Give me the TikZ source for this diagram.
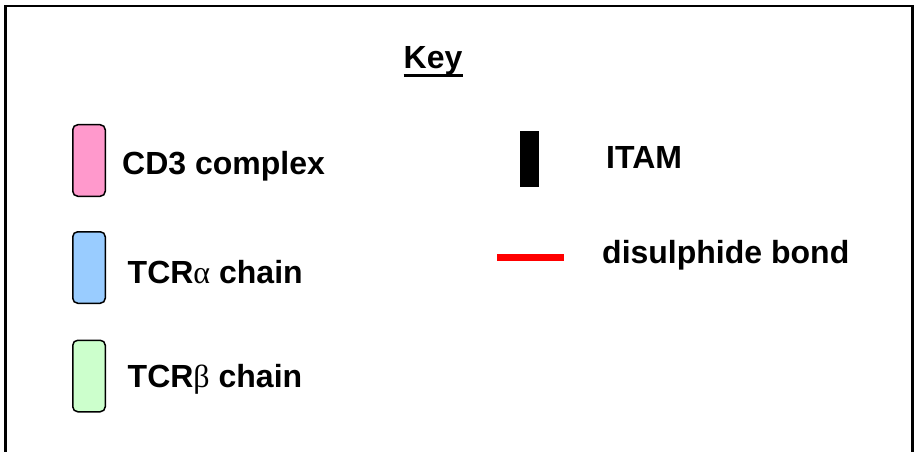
\documentclass[tikz,border=0pt]{standalone}
\usepackage{fontspec}
\setmainfont{Liberation Sans}
\newfontfamily\greekfont{Liberation Serif}
\definecolor{cdpink}{HTML}{FF99CC}
\definecolor{alphablue}{HTML}{99CCFF}
\definecolor{betagreen}{HTML}{CCFFCC}
\begin{document}
\begin{tikzpicture}[x=1pt,y=-1pt,
  keybox/.style={draw=black, line width=1.5pt, rounded corners=5pt,
    minimum width=32.5pt, minimum height=71.5pt, inner sep=0pt},
  keytext/.style={anchor=base west, inner sep=0pt,
    font=\fontsize{32}{36}\selectfont\bfseries},
  itambar/.style={fill=black, draw=none, minimum width=19pt,
    minimum height=56pt, inner sep=0pt},
  ssbond/.style={draw=red, line width=7pt}]
\clip (0,0) rectangle (914,452);
\useasboundingbox (0,0) rectangle (914,452);
% outer frame (open at the bottom edge of the page)
\draw[line width=2.5pt] (5.5,470) |- (912.5,6) -- (912.5,470);
% title
\node[keytext] (key) at (403.5,68.5) {Key};
\draw[line width=2.5pt] ([yshift=-7pt]key.base west) -- ([yshift=-7pt]key.base east);
% left column: chain swatches
\node[keybox, fill=cdpink]    (cd3)   at (89,160.5) {};
\node[keybox, fill=alphablue] (alpha) at (89,267.5) {};
\node[keybox, fill=betagreen] (beta)  at (89,376)   {};
\node[keytext] (cd3txt)   at (122,174) {CD3 complex};
\node[keytext] (alphatxt) at (127.5,283) {TCR{\mdseries\greekfont α} chain};
\node[keytext] (betatxt)  at (127.5,387) {TCR{\mdseries\greekfont β} chain};
% right column: ITAM and disulphide bond
\node[itambar] (itam) at (529.5,159) {};
\node[keytext] (itamtxt) at (606,168) {ITAM};
\coordinate (ssa) at (497,257);
\coordinate (ssb) at (564,257);
\draw[ssbond] (ssa) -- (ssb);
\node[keytext] (sstxt) at (602,263) {disulphide bond};
\end{tikzpicture}
\end{document}
